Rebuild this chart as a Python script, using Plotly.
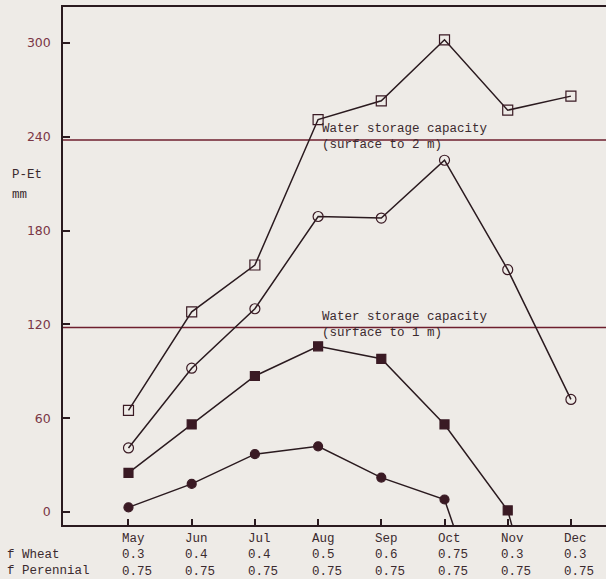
import plotly.graph_objects as go

# ---------------- data ----------------
months = ["May", "Jun", "Jul", "Aug", "Sep", "Oct", "Nov", "Dec"]
f_wheat = ["0.3", "0.4", "0.4", "0.5", "0.6", "0.75", "0.3", "0.3"]
f_perennial = ["0.75", "0.75", "0.75", "0.75", "0.75", "0.75", "0.75", "0.75"]

open_squares = [65, 128, 158, 251, 263, 302, 257, 266]
open_circles = [41, 92, 130, 189, 188, 225, 155, 72]
filled_squares = [25, 56, 87, 106, 98, 56, 1, -145]
filled_circles = [3, 18, 37, 42, 22, 8, -110, None]

storage_2m = 238
storage_1m = 118
y_ticks = [0, 60, 120, 180, 240, 300]

# ---------------- style ----------------
BG = "#eeebe7"
INK = "#2a1a1f"
MARK = "#3a1a24"
RED = "#6e1f2e"
TXT = "#3b2a2e"
TICKTXT = "#7a3645"
MONO = "Liberation Mono"
FS = 12.5

x = list(range(len(months)))

fig = go.Figure()


def add_series(vals, symbol, size, name):
    fig.add_trace(go.Scatter(
        x=x, y=vals, mode="lines+markers", name=name,
        line=dict(color=INK, width=1.5),
        marker=dict(symbol=symbol, size=size, color=MARK,
                    line=dict(color=MARK, width=1.2)),
        connectgaps=False,
    ))


add_series(open_squares, "square-open", 10, "Series 1")
add_series(open_circles, "circle-open", 10, "Series 2")
add_series(filled_squares, "square", 9, "Series 3")
add_series(filled_circles, "circle", 9, "Series 4")

# storage capacity lines
for val, txt in [(storage_2m, "(surface to 2 m)"), (storage_1m, "(surface to 1 m)")]:
    fig.add_shape(type="line", xref="paper", x0=0, x1=1, yref="y", y0=val, y1=val,
                  line=dict(color=RED, width=1.5), layer="below")
    fig.add_annotation(text="Water storage capacity<br>" + txt, xref="paper", x=0.473,
                       yref="y", y=val, yshift=2.5, xanchor="left", yanchor="middle",
                       align="left", showarrow=False,
                       font=dict(family=MONO, size=FS, color=TXT))

# bottom table (one column per month)
PLOT_H = 518
LINE = 1.3 * FS
for i in x:
    fig.add_annotation(text="<br>".join([months[i], f_wheat[i], f_perennial[i]]),
                       xref="x", x=i, xshift=-8.5,
                       yref="paper", y=-(555 - 525) / PLOT_H,
                       xanchor="left", yanchor="middle", align="left", showarrow=False,
                       font=dict(family=MONO, size=FS, color=TXT))
fig.add_annotation(text="f Wheat<br>f Perennial", xref="paper", x=(5 - 63) / 543,
                   yref="paper", y=-(555 + LINE / 2 - 525) / PLOT_H,
                   xanchor="left", yanchor="middle", align="left", showarrow=False,
                   font=dict(family=MONO, size=FS, color=TXT))

# y axis title
for t, ypx in [("P-Et", 175), ("mm", 195)]:
    fig.add_annotation(text=t, xref="paper", x=(10 - 63) / 543,
                       yref="paper", y=(525 - ypx) / PLOT_H,
                       xanchor="left", yanchor="middle", showarrow=False,
                       font=dict(family=MONO, size=FS, color=TXT))

fig.update_layout(
    width=606, height=579,
    margin=dict(l=63, r=0, t=7, b=54),
    paper_bgcolor=BG, plot_bgcolor=BG,
    showlegend=False,
    xaxis=dict(range=[-1.036, 7.555], showgrid=False, zeroline=False,
               showline=True, linecolor=INK, linewidth=1.5, mirror=True,
               tickmode="array", tickvals=x, ticks="inside", ticklen=6,
               tickcolor=INK, tickwidth=1.5, showticklabels=False),
    yaxis=dict(range=[-8.3, 323.0], showgrid=False, zeroline=False,
               showline=True, linecolor=INK, linewidth=1.5,
               tickmode="array", tickvals=y_ticks, ticks="inside", ticklen=7,
               tickcolor=INK, tickwidth=1.5, ticklabelstandoff=8,
               tickfont=dict(family="DejaVu Sans", size=12.5, color=TICKTXT)),
)

fig.write_html(
    "out.html",
    config={"displayModeBar": False},
    post_script="document.body.style.margin='0';document.body.style.overflow='hidden';",
)
